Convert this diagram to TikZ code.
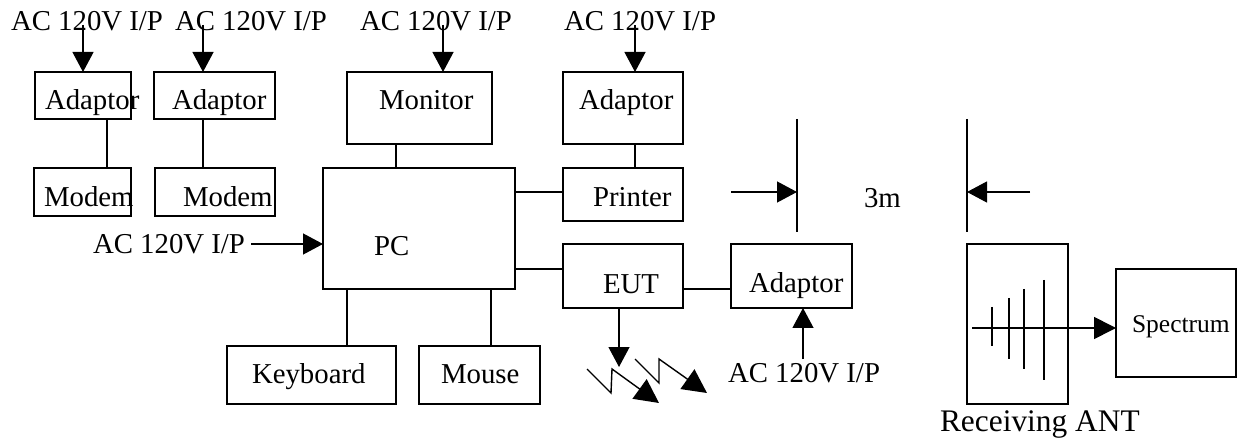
\documentclass[tikz,border=0pt]{standalone}
\usepackage{fontspec}
\setmainfont{Liberation Serif}
\usetikzlibrary{arrows.meta}
\tikzset{
  box/.style={draw, line width=1.2pt, inner sep=0pt, outer sep=0pt},
  lbl/.style={inner sep=0pt, outer sep=0pt, anchor=base west},
  conn/.style={line width=1.2pt},
  arr/.style={line width=1.2pt, -{Triangle[length=20pt,width=21pt]}},
  bigarr/.style={line width=1.4pt, line join=miter, -{Triangle[length=24pt,width=24pt]}},
  antel/.style={line width=1.6pt}
}
\begin{document}
\begin{tikzpicture}[x=1pt,y=-1pt,font=\fontsize{28.8}{34}\selectfont]
\useasboundingbox (0,0) rectangle (1252,443);
% boxes
\node[box,minimum width=96pt,minimum height=47pt] (ad1) at (83,95.5) {};
\node[box,minimum width=121pt,minimum height=47pt] (ad2) at (214.5,95.5) {};
\node[box,minimum width=97pt,minimum height=48pt] (mod1) at (82.5,192) {};
\node[box,minimum width=120pt,minimum height=48pt] (mod2) at (215,192) {};
\node[box,minimum width=145pt,minimum height=72pt] (mon) at (419.5,108) {};
\node[box,minimum width=120pt,minimum height=72pt] (ad3) at (623,108) {};
\node[box,minimum width=120pt,minimum height=53pt] (prn) at (623,194.5) {};
\node[box,minimum width=192pt,minimum height=121pt] (pc) at (419,228.5) {};
\node[box,minimum width=120pt,minimum height=64pt] (eut) at (623,276) {};
\node[box,minimum width=121pt,minimum height=64pt] (ad4) at (791.5,276) {};
\node[box,minimum width=169pt,minimum height=58pt] (kb) at (311.5,375) {};
\node[box,minimum width=121pt,minimum height=58pt] (mouse) at (479.5,375) {};
\node[box,minimum width=101pt,minimum height=160pt] (ant) at (1017.5,324) {};
\node[box,minimum width=120pt,minimum height=108pt] (spec) at (1176,323) {};
% texts
\node[lbl] (t1) at (11,31) {AC 120V I/P};
\node[lbl] (t2) at (175,31) {AC 120V I/P};
\node[lbl] (t3) at (360,31) {AC 120V I/P};
\node[lbl] (t4) at (564,31) {AC 120V I/P};
\node[lbl] (lad1) at (45,110) {Adaptor};
\node[lbl] (lad2) at (172,110) {Adaptor};
\node[lbl] (lmon) at (379,110) {Monitor};
\node[lbl] (lad3) at (579,110) {Adaptor};
\node[lbl] (lmod1) at (44,207) {Modem};
\node[lbl] (lmod2) at (183,207) {Modem};
\node[lbl] (lprn) at (593,207) {Printer};
\node[lbl] (lpc) at (374,256) {PC};
\node[lbl] (t5) at (93,254) {AC 120V I/P};
\node[lbl] (leut) at (603,294) {EUT};
\node[lbl] (lad4) at (749,293) {Adaptor};
\node[lbl] (t6) at (728,382) {AC 120V I/P};
\node[lbl] (lkb) at (252,383) {Keyboard};
\node[lbl] (lmouse) at (441,383) {Mouse};
\node[lbl] (l3m) at (864,208) {3m};
\node[lbl,font=\fontsize{25.5}{30}\selectfont] (lspec) at (1132,333) {Spectrum};
\node[lbl,font=\fontsize{31.4}{36}\selectfont] (lant) at (940,431) {Receiving ANT};
% connectors
\draw[conn] ([xshift=24pt]ad1.south) -- ([xshift=24pt]ad1.south |- mod1.north);
\draw[conn] ([xshift=-11.5pt]ad2.south) -- ([xshift=-11.5pt]ad2.south |- mod2.north);
\draw[conn] ([xshift=-23.5pt]mon.south) -- ([xshift=-23.5pt]mon.south |- pc.north);
\draw[conn] ([xshift=12pt]ad3.south) -- ([xshift=12pt]prn.north);
\draw[conn] ([yshift=2.5pt]prn.west) -- ([yshift=2.5pt]prn.west -| pc.east);
\draw[conn] ([yshift=7pt]eut.west) -- ([yshift=7pt]eut.west -| pc.east);
\draw[conn] ([yshift=-13pt]eut.east) -- ([yshift=-13pt]eut.east -| ad4.west);
\draw[conn] ([xshift=35.5pt]kb.north) -- ([xshift=35.5pt]kb.north |- pc.south);
\draw[conn] ([xshift=11.5pt]mouse.north) -- ([xshift=11.5pt]mouse.north |- pc.south);
% power arrows
\coordinate (s1) at (83,25);
\coordinate (s2) at (203,25);
\coordinate (s3) at (443,25);
\coordinate (s4) at (635,25);
\coordinate (s5) at (251,244);
\coordinate (s6) at (803,359);
\draw[arr] (s1) -- (s1 |- ad1.north);
\draw[arr] (s2) -- (s2 |- ad2.north);
\draw[arr] (s3) -- (s3 |- mon.north);
\draw[arr] (s4) -- (s4 |- ad3.north);
\draw[arr] (s5) -- (s5 -| pc.west);
\draw[arr] (s6) -- (s6 |- ad4.south);
% EUT emission
\coordinate (e1) at (619,367);
\draw[arr] ([xshift=-4pt]eut.south) -- (e1);
\coordinate (z1) at (587,369);
\coordinate (z2) at (635,359);
\draw[bigarr] (z1) -- ++(24,24) -- ++(1,-24) -- ++(47,34);
\draw[bigarr] (z2) -- ++(24,24) -- ++(0,-24) -- ++(48,34);
% distance marks
\coordinate (d1a) at (797,119);
\coordinate (d1b) at (797,232);
\coordinate (d2a) at (967,119);
\coordinate (d2b) at (967,232);
\coordinate (da) at (731,192);
\coordinate (db) at (1030,192);
\draw[conn] (d1a) -- (d1b);
\draw[conn] (d2a) -- (d2b);
\draw[arr] (da) -- (da -| d1a);
\draw[arr] (db) -- (db -| d2a);
% antenna
\coordinate (a0) at (972,328);
\draw[antel,-{Triangle[length=22pt,width=22pt]}] (a0) -- (a0 -| spec.west);
\draw[antel] (992,307) -- (992,346);
\draw[antel] (1009,298) -- (1009,359);
\draw[antel] (1024,289) -- (1024,369);
\draw[antel] (1044,280) -- (1044,380);
\end{tikzpicture}
\end{document}
